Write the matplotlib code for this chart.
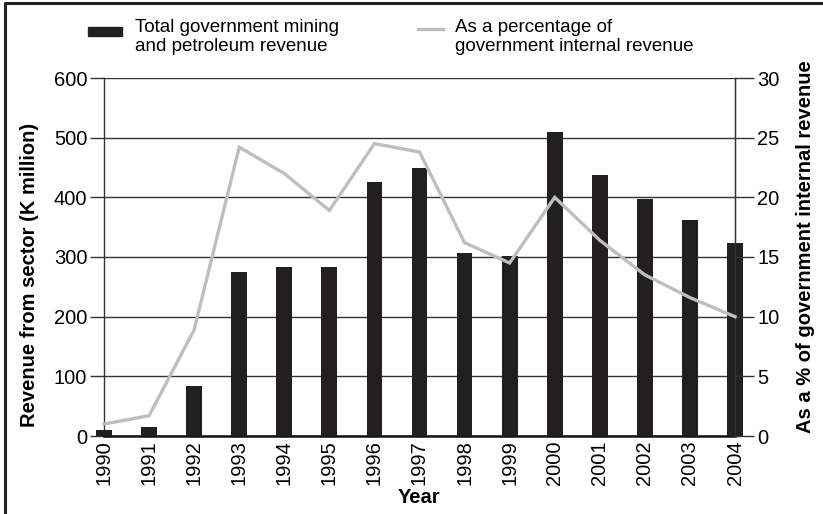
import matplotlib
matplotlib.use("Agg")
import matplotlib.pyplot as plt
from matplotlib.lines import Line2D

plt.rcParams['font.family'] = ['Liberation Sans', 'DejaVu Sans']

years = [1990, 1991, 1992, 1993, 1994, 1995, 1996, 1997, 1998, 1999,
         2000, 2001, 2002, 2003, 2004]
revenue = [10, 15, 84, 275, 283, 283, 425, 449, 307, 302,
           509, 437, 398, 362, 324]
pct = [1.0, 1.7, 8.9, 24.2, 22.0, 18.9, 24.5, 23.8, 16.2, 14.5,
       20.0, 16.4, 13.5, 11.6, 10.0]
y_ticks = [0, 100, 200, 300, 400, 500, 600]
y2_ticks = [0, 5, 10, 15, 20, 25, 30]

bar_color = '#231f20'
line_color = '#bcbec0'
grid_color = '#333333'
tick_fs = 14.5
label_fs = 14.5

fig = plt.figure(figsize=(8.23, 5.14), dpi=100)
ax = fig.add_axes([104/823, 1-436/514, (735-104)/823, (436-78)/514])
ax2 = ax.twinx()

ax.bar(years, revenue, width=0.35, color=bar_color, clip_on=False, zorder=3)
ax.set_xlim(1990, 2004)
ax.set_ylim(0, 600)
ax.set_yticks(y_ticks)
ax.set_xticks(years)
ax.set_xticklabels([str(y) for y in years], rotation=90, fontsize=tick_fs)
ax.tick_params(axis='x', length=0, pad=3)
ax.tick_params(axis='y', length=10, width=1, color=grid_color, labelsize=tick_fs, pad=2)
for v in y_ticks:
    ax.axhline(v, color=grid_color, lw=1.0, zorder=1)
ax.spines['top'].set_visible(False)
ax.spines['left'].set_color(grid_color)
ax.spines['bottom'].set_color('#111111')
ax.spines['bottom'].set_linewidth(1.8)
ax.spines['left'].set_linewidth(1.0)

ax2.plot(years, pct, color=line_color, lw=2.4, zorder=4, clip_on=False,
         solid_joinstyle='miter')
ax2.set_ylim(0, 30)
ax2.set_yticks(y2_ticks)
ax2.tick_params(axis='y', length=14, width=1, color=grid_color, labelsize=tick_fs, pad=2)
ax2.spines['top'].set_visible(False)
ax2.spines['left'].set_visible(False)
ax2.spines['bottom'].set_visible(False)
ax2.spines['right'].set_color(grid_color)
ax2.spines['right'].set_linewidth(1.0)

ax.patch.set_visible(False)
ax2.set_zorder(ax.get_zorder() + 1)
ax2.patch.set_visible(False)

ax.set_ylabel('Revenue from sector (K million)', fontsize=label_fs, fontweight='bold', labelpad=11)
ax.yaxis.label.set_y(0.45)
ax2.set_ylabel('As a % of government internal revenue', fontsize=label_fs, fontweight='bold', labelpad=12)
ax2.yaxis.label.set_y(0.53)
ax.set_xlabel('Year', fontsize=label_fs, fontweight='bold', labelpad=2)

# legend
fig.patches.append(plt.Rectangle((88/823, 1-36/514), 34/823, 9/514, color=bar_color,
                                 transform=fig.transFigure))
fig.text(135/823, 1-37/514, 'Total government mining\nand petroleum revenue',
         fontsize=13.5, va='center', ha='left', linespacing=1.15)
fig.lines.append(Line2D([418/823, 443/823], [1-29/514, 1-29/514], color=line_color,
                        lw=2.4, transform=fig.transFigure))
fig.text(455/823, 1-37/514, 'As a percentage of\ngovernment internal revenue',
         fontsize=13.5, va='center', ha='left', linespacing=1.15)

# frame (left and top)
fig.lines.append(Line2D([5/823, 5/823, 1.0], [0, 1-3/514, 1-3/514], color='#222222',
                        lw=2.2, transform=fig.transFigure))

fig.savefig('out.png', dpi=100)
